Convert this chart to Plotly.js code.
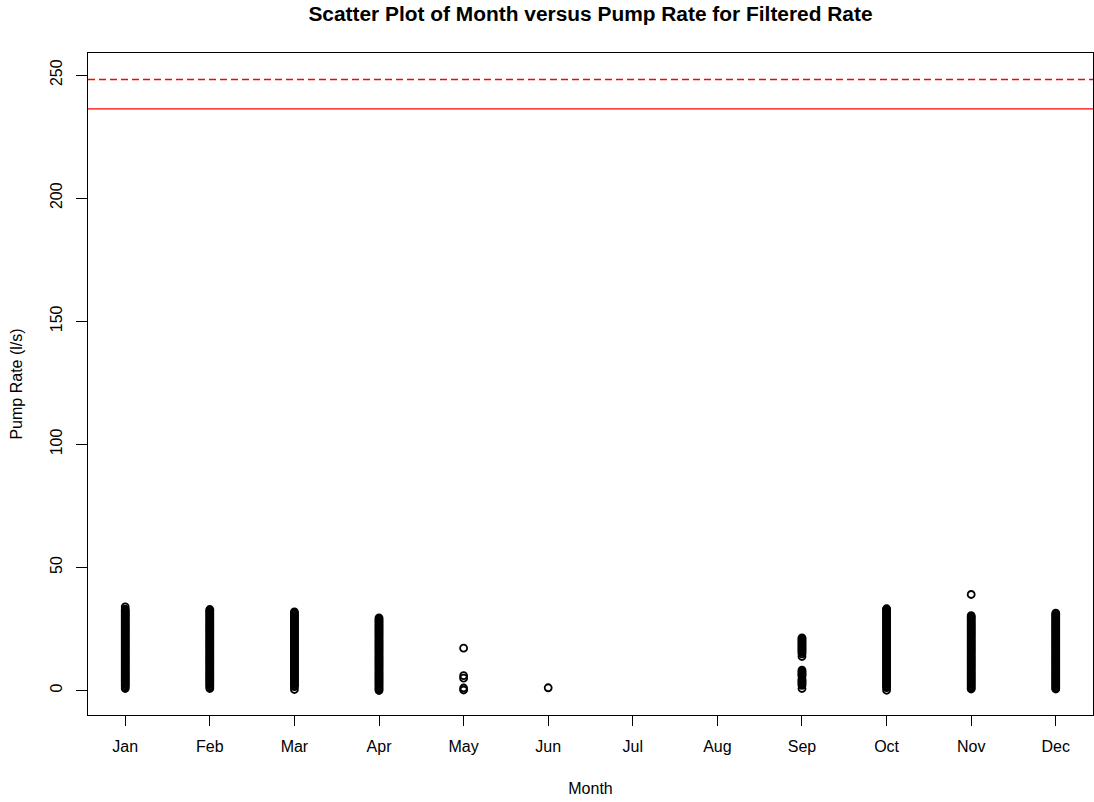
<!DOCTYPE html>
<html>
<head>
<meta charset="utf-8">
<script src="https://cdn.plot.ly/plotly-3.0.1.min.js"></script>
<style>html,body{margin:0;padding:0;background:#fff;}#chart{width:1094px;height:802px;}</style>
</head>
<body>
<div id="chart"></div>
<script>
const months = ['Jan','Feb','Mar','Apr','May','Jun','Jul','Aug','Sep','Oct','Nov','Dec'];

const janRate = [0.8,1.5,2,2.5,3,3.5,4,4.5,5,5.5,6,6.5,7,7.5,8,8.5,9,9.5,10,10.5,11,11.5,12,12.5,13,13.5,14,14.5,15,15.5,16,16.5,17,17.5,18,18.5,19,19.5,20,20.5,21,21.5,22,22.5,23,23.5,24,24.5,25,25.5,26,26.5,27,27.5,28,28.5,29,29.5,30,30.5,31,31.5,32,32.5,33,34];
const febRate = [0.8,1.5,2,2.5,3,3.5,4,4.5,5,5.5,6,6.5,7,7.5,8,8.5,9,9.5,10,10.5,11,11.5,12,12.5,13,13.5,14,14.5,15,15.5,16,16.5,17,17.5,18,18.5,19,19.5,20,20.5,21,21.5,22,22.5,23,23.5,24,24.5,25,25.5,26,26.5,27,27.5,28,28.5,29,29.5,30,30.5,31,31.5,32,32.5,32.9];
const marRate = [0.4,1.6,2,2.5,3,3.5,4,4.5,5,5.5,6,6.5,7,7.5,8,8.5,9,9.5,10,10.5,11,11.5,12,12.5,13,13.5,14,14.5,15,15.5,16,16.5,17,17.5,18,18.5,19,19.5,20,20.5,21,21.5,22,22.5,23,23.5,24,24.5,25,25.5,26,26.5,27,27.5,28,28.5,29,29.5,30,30.5,31,31.5,31.9];
const aprRate = [0,0.5,1,1.5,2,2.5,3,3.5,4,4.5,5,5.5,6,6.5,7,7.5,8,8.5,9,9.5,10,10.5,11,11.5,12,12.5,13,13.5,14,14.5,15,15.5,16,16.5,17,17.5,18,18.5,19,19.5,20,20.5,21,21.5,22,22.5,23,23.5,24,24.5,25,25.5,26,26.5,27,27.5,28,28.5,29,29.5];
const mayRate = [17.2,6,5,1,0.2];
const junRate = [1.1];
const julRate = [];
const augRate = [];
const sepRate = [21.4,21,20.5,20,19.5,19,18.5,18,17.5,17,16.5,16,15.5,14.9,13.8,8.3,7.8,7.3,6.8,6.3,5.8,4.6,4.1,3.6,3.1,2.6,2.1,0.8];
const octRate = [0.1,1.2,1.5,2,2.5,3,3.5,4,4.5,5,5.5,6,6.5,7,7.5,8,8.5,9,9.5,10,10.5,11,11.5,12,12.5,13,13.5,14,14.5,15,15.5,16,16.5,17,17.5,18,18.5,19,19.5,20,20.5,21,21.5,22,22.5,23,23.5,24,24.5,25,25.5,26,26.5,27,27.5,28,28.5,29,29.5,30,30.5,31,31.5,32,32.5,33,33.2];
const novRate = [0.6,1,1.5,2,2.5,3,3.5,4,4.5,5,5.5,6,6.5,7,7.5,8,8.5,9,9.5,10,10.5,11,11.5,12,12.5,13,13.5,14,14.5,15,15.5,16,16.5,17,17.5,18,18.5,19,19.5,20,20.5,21,21.5,22,22.5,23,23.5,24,24.5,25,25.5,26,26.5,27,27.5,28,28.5,29,29.5,30,30.4,39];
const decRate = [0.6,1,1.5,2,2.5,3,3.5,4,4.5,5,5.5,6,6.5,7,7.5,8,8.5,9,9.5,10,10.5,11,11.5,12,12.5,13,13.5,14,14.5,15,15.5,16,16.5,17,17.5,18,18.5,19,19.5,20,20.5,21,21.5,22,22.5,23,23.5,24,24.5,25,25.5,26,26.5,27,27.5,28,28.5,29,29.5,30,30.5,31,31.4];

const upperLimit = 248.2;   // dashed red reference line
const lowerLimit = 236.3;   // solid red reference line
const yTicks = [0,50,100,150,200,250];

const rateByMonth = [janRate,febRate,marRate,aprRate,mayRate,junRate,julRate,augRate,sepRate,octRate,novRate,decRate];

const xs = [], ys = [];
rateByMonth.forEach((vals, i) => {
  vals.forEach(v => { xs.push(i + 1); ys.push(v); });
});

const FONT = 'Liberation Sans, Arial, sans-serif';

const trace = {
  type: 'scatter',
  mode: 'markers',
  x: xs,
  y: ys,
  marker: {symbol: 'circle-open', size: 7, color: '#000', line: {width: 1.8, color: '#000'}},
  hoverinfo: 'x+y',
  showlegend: false
};

const layout = {
  width: 1094,
  height: 802,
  margin: {l: 88, r: 1, t: 53, b: 87},
  paper_bgcolor: '#fff',
  plot_bgcolor: '#fff',
  font: {family: FONT, size: 16, color: '#000'},
  title: {
    text: '<b>Scatter Plot of Month versus Pump Rate for Filtered Rate</b>',
    font: {family: FONT, size: 20.9, color: '#000'},
    x: 0.5, xanchor: 'center', xref: 'paper',
    y: 1 - 14/802, yanchor: 'middle', yref: 'container'
  },
  xaxis: {
    range: [0.56, 12.44],
    tickmode: 'array',
    tickvals: months.map((m, i) => i + 1),
    ticktext: months,
    ticks: 'outside', ticklen: 10, tickwidth: 1, tickcolor: '#000',
    ticklabelstandoff: 7,
    showline: true, mirror: true, linecolor: '#000', linewidth: 1,
    showgrid: false, zeroline: false,
    tickfont: {family: FONT, size: 16, color: '#000'},
    title: {text: 'Month', font: {family: FONT, size: 16, color: '#000'}, standoff: 28}
  },
  yaxis: {
    range: [-9.96, 258.96],
    tickmode: 'array',
    tickvals: yTicks,
    ticktext: yTicks.map(String),
    tickangle: -90,
    ticks: 'outside', ticklen: 11, tickwidth: 1, tickcolor: '#000',
    ticklabelstandoff: 8,
    showline: true, mirror: true, linecolor: '#000', linewidth: 1,
    showgrid: false, zeroline: false,
    tickfont: {family: FONT, size: 16, color: '#000'},
    title: {text: 'Pump Rate (l/s)', font: {family: FONT, size: 16, color: '#000'}, standoff: 20}
  },
  shapes: [
    {type: 'line', xref: 'paper', x0: 0, x1: 1, yref: 'y', y0: upperLimit, y1: upperLimit,
     line: {color: '#ff0000', width: 1.3, dash: '7px,4px'}},
    {type: 'line', xref: 'paper', x0: 0, x1: 1, yref: 'y', y0: lowerLimit, y1: lowerLimit,
     line: {color: '#ff0000', width: 1.3}}
  ]
};

Plotly.newPlot('chart', [trace], layout, {displayModeBar: false, staticPlot: true});
</script>
</body>
</html>
